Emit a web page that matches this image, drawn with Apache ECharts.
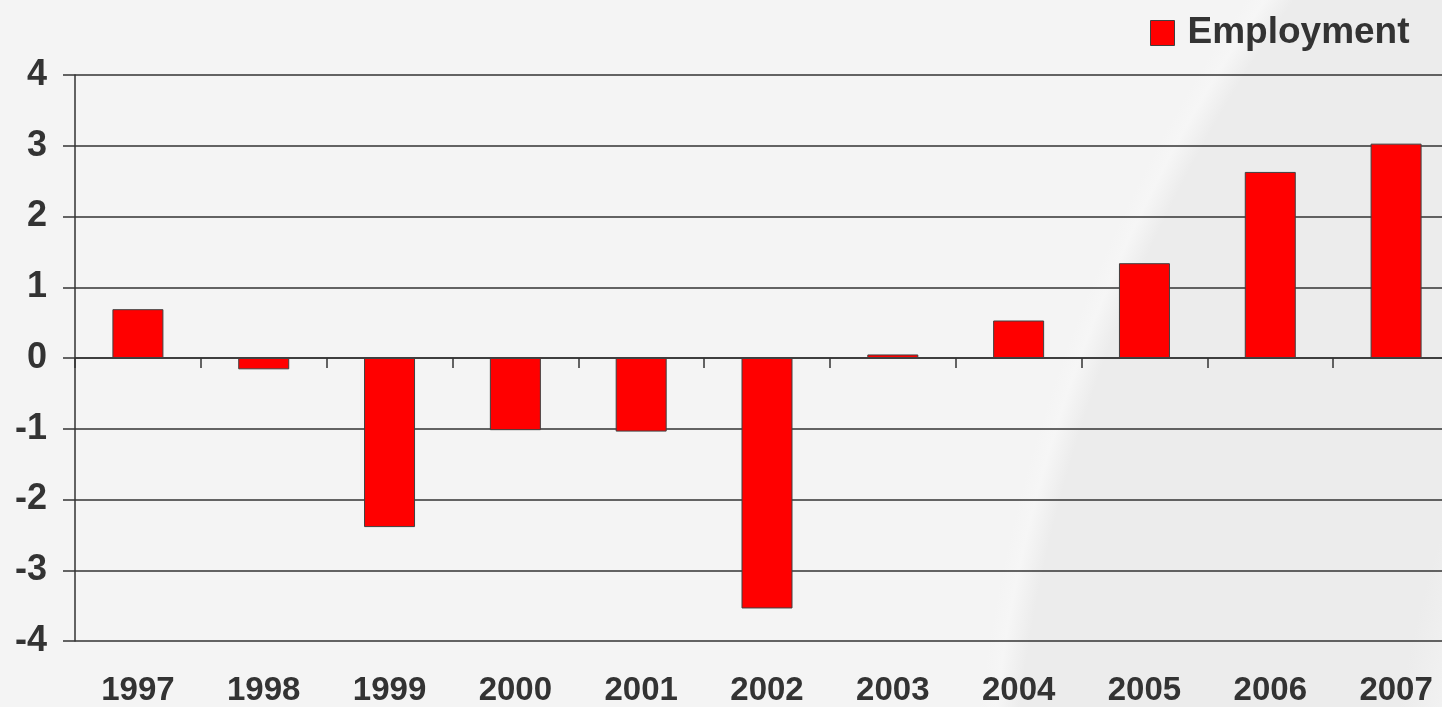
<!DOCTYPE html>
<html>
<head>
<meta charset="utf-8">
<script src="https://cdn.jsdelivr.net/npm/echarts@6/dist/echarts.min.js"></script>
<style>
html,body{margin:0;padding:0;background:#f4f4f4;}
#chart{width:1442px;height:707px;}
</style>
</head>
<body>
<div id="chart"></div>
<script>
const categories = ['1997','1998','1999','2000','2001','2002','2003','2004','2005','2006','2007'];
const employment = [0.69, -0.16, -2.39, -1.02, -1.04, -3.54, 0.05, 0.53, 1.34, 2.63, 3.03];
const seriesName = 'Employment';

const chart = echarts.init(document.getElementById('chart'));
const font = '"Liberation Sans", Arial, sans-serif';
const dark = '#333333';

chart.setOption({
  backgroundColor: '#f4f4f4',
  animation: false,
  graphic: [{
    type: 'circle',
    z: -10,
    silent: true,
    shape: { cx: 2565, cy: 900, r: 1597 },
    style: {
      fill: {
        type: 'radial', x: 0.5, y: 0.5, r: 0.5,
        colorStops: [
          { offset: 0, color: '#f4f4f4' },
          { offset: 0.70, color: '#f4f4f4' },
          { offset: 0.74, color: '#ececec' },
          { offset: 0.975, color: '#ececec' },
          { offset: 0.99, color: '#f6f6f6' },
          { offset: 1, color: '#f4f4f4' }
        ]
      }
    }
  }],
  legend: {
    left: 1145,
    top: 8,
    itemWidth: 24,
    itemHeight: 25,
    icon: 'rect',
    itemStyle: { borderColor: '#404040', borderWidth: 1 },
    textStyle: { fontFamily: font, fontWeight: 'bold', fontSize: 37, color: dark, padding: [0, 0, 0, 8], lineHeight: 40 },
    data: [seriesName]
  },
  grid: { left: 75, top: 75, width: 1384, height: 566, containLabel: false, outerBoundsMode: 'none' },
  xAxis: [{
    type: 'category',
    data: categories,
    position: 'bottom',
    axisLine: { show: false, onZero: false },
    axisTick: { show: false },
    axisLabel: { fontFamily: font, fontWeight: 'bold', fontSize: 33, color: dark, margin: 33 },
    splitLine: { show: false }
  }, {
    type: 'category',
    data: categories,
    position: 'bottom',
    axisLine: { show: true, onZero: true, lineStyle: { color: dark, width: 1.5 } },
    axisTick: { show: true, length: 10, lineStyle: { color: dark, width: 1.5 } },
    axisLabel: { show: false },
    splitLine: { show: false }
  }],
  yAxis: {
    type: 'value',
    min: -4, max: 4, interval: 1,
    axisLine: { show: true, lineStyle: { color: dark, width: 1.5 } },
    axisTick: { show: true, length: 12, lineStyle: { color: dark, width: 1.5 } },
    axisLabel: { fontFamily: font, fontWeight: 'bold', fontSize: 36, color: dark, margin: 28 },
    splitLine: { show: true, lineStyle: { color: dark, width: 1.5 } }
  },
  series: [{
    name: seriesName,
    type: 'bar',
    xAxisIndex: 0,
    data: employment,
    barWidth: 51,
    itemStyle: { color: '#ff0000', borderColor: '#404040', borderWidth: 1 }
  }]
});
</script>
</body>
</html>
